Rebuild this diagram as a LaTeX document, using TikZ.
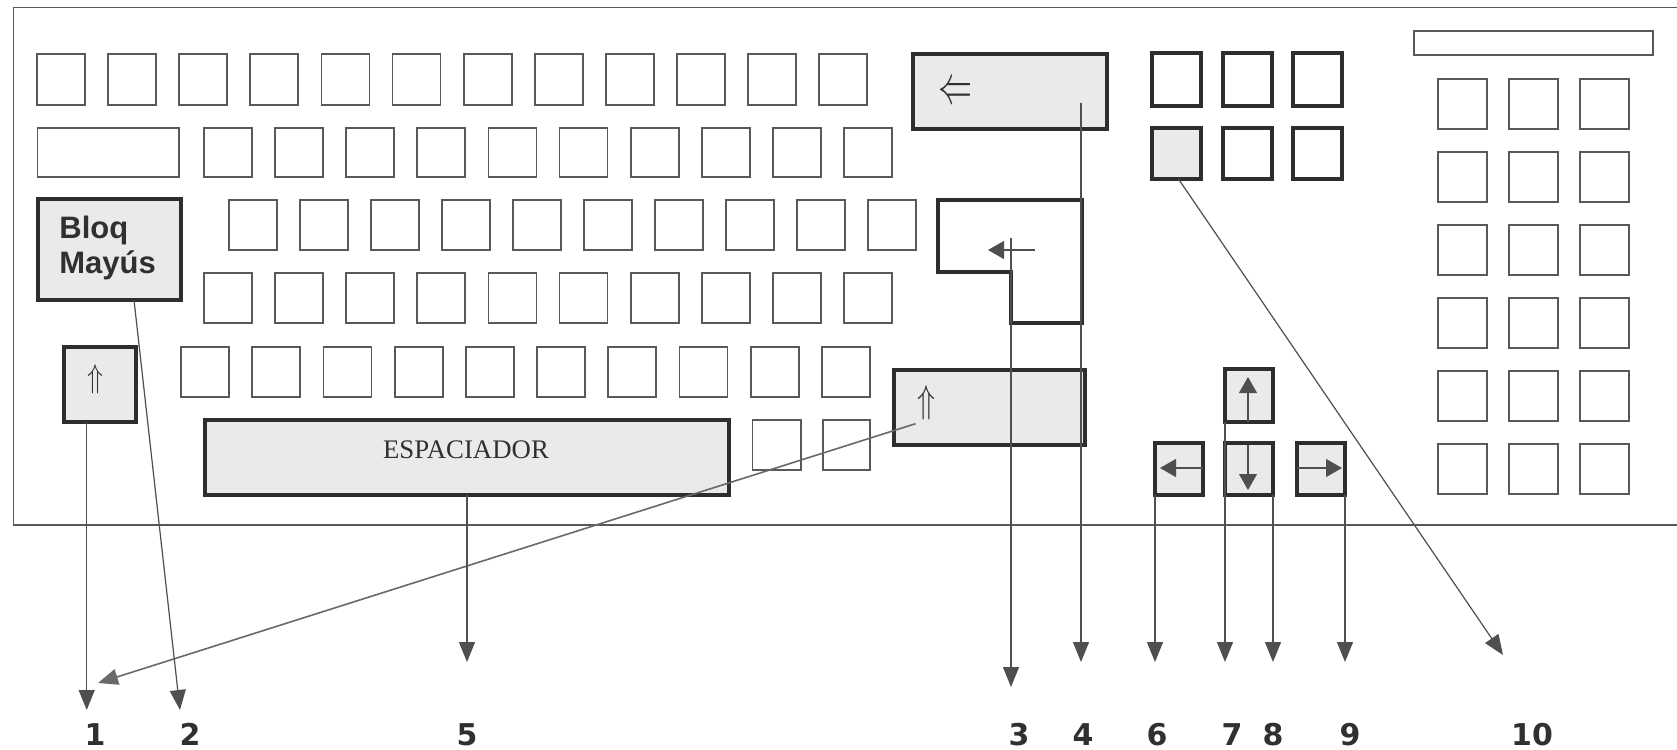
\documentclass[tikz,border=0pt]{standalone}
\usepackage{graphicx}
\usepackage{fontspec}
\setmainfont{Liberation Serif}
\newfontfamily\lsans{Liberation Sans}
\newfontfamily\dvsans{DejaVu Sans}
\usetikzlibrary{arrows.meta,calc}
\definecolor{thinline}{HTML}{595959}
\definecolor{thickline}{HTML}{2E2E2E}
\definecolor{keyfill}{HTML}{EAEAEA}
\definecolor{connc}{HTML}{4F4F4F}
\definecolor{txt}{HTML}{303030}
\newcommand\kbkey[6]{\node[#6, minimum width={((#4)-(#2))*0.5pt}, minimum height={((#5)-(#3))*0.5pt}] (#1) at ({((#2)+(#4))/2},{((#3)+(#5))/2}) {};}
\tikzset{
  keybase/.style={rectangle, inner sep=0pt, outer sep=0pt},
  thinkey/.style={keybase, draw=thinline, line width=0.9pt, fill=white},
  thickkey/.style={keybase, draw=thickline, line width=2pt, fill=white},
  graykey/.style={thickkey, fill=keyfill},
  conn/.style={draw=connc, line width=0.6pt, -{Triangle[width=8pt,length=10pt]}},
  keyarrow/.style={draw=connc, line width=0.6pt, -{Triangle[width=9pt,length=8pt]}},
  numlabel/.style={font=\dvsans\bfseries\fontsize{15}{15}\selectfont, text=txt, anchor=base, inner sep=0pt},
  symb/.style={text=txt, inner sep=0pt},
}
\begin{document}
\begin{tikzpicture}[x=0.5pt,y=-0.5pt]
\useasboundingbox (0,0) rectangle (1677,750);
\fill[white] (0,0) rectangle (1677,750);
% outer frame (open at the right)
\draw[thinline, line width=0.8pt] (1677,7.5) -- (13.6,7.5) -- (13.6,525) -- (1677,525);

% row 1
\foreach \i in {0,...,11} {\pgfmathsetmacro\xa{37+71.1*\i}
  \kbkey{ra\i}{\xa}{54}{\xa+48}{105}{thinkey}}
% row 2
\kbkey{tab}{37.5}{128}{178.6}{177}{thinkey}
\foreach \i in {0,...,9} {\pgfmathsetmacro\xa{204+71.1*\i}
  \kbkey{rb\i}{\xa}{128}{\xa+48}{177}{thinkey}}
% row 3
\kbkey{bloq}{37.5}{199}{181}{300}{graykey}
\foreach \i in {0,...,9} {\pgfmathsetmacro\xa{229+71*\i}
  \kbkey{rc\i}{\xa}{200}{\xa+48}{250}{thinkey}}
% row 4
\foreach \i in {0,...,9} {\pgfmathsetmacro\xa{204+71.1*\i}
  \kbkey{rd\i}{\xa}{273}{\xa+48}{323}{thinkey}}
% row 5
\foreach \i in {0,...,9} {\pgfmathsetmacro\xa{181+71.2*\i}
  \kbkey{re\i}{\xa}{347}{\xa+48}{397}{thinkey}}
% special keys
\kbkey{lsh}{63.6}{347}{135.7}{422}{graykey}
\kbkey{rsh}{893.6}{370}{1084.6}{445}{graykey}
\kbkey{space}{205}{420}{729}{495}{graykey}
\kbkey{sma}{752.5}{420}{800.7}{470}{thinkey}
\kbkey{smb}{823}{420}{870}{470}{thinkey}
\kbkey{bksp}{913}{54}{1107}{129}{graykey}
% enter (L shape)
\draw[thickline, line width=2pt, fill=white, line join=miter]
  (938,200) -- (1082,200) -- (1082,323) -- (1011,323) -- (1011,272) -- (938,272) -- cycle;
% 6-key block
\foreach \c in {0,1,2} {\pgfmathsetmacro\xa{1152+70.5*\c}
  \kbkey{blk0\c}{\xa}{53}{\xa+49}{106}{thickkey}
  \kbkey{blk1\c}{\xa}{128}{\xa+49}{179}{thickkey}}
\kbkey{blk10}{1152}{128}{1201}{179}{graykey}
% arrow keys
\kbkey{kup}{1225}{369}{1273}{422}{graykey}
\kbkey{kleft}{1155}{443}{1203}{495}{graykey}
\kbkey{kdown}{1225}{443}{1273}{495}{graykey}
\kbkey{kright}{1297}{443}{1345}{495}{graykey}
% numeric pad
\kbkey{npbar}{1414}{31}{1653}{55}{thinkey}
\foreach \c in {0,1,2} {\foreach \r in {0,...,5} {
  \pgfmathsetmacro\xa{1438+71*\c}\pgfmathsetmacro\ya{79+73*\r}
  \kbkey{np\r\c}{\xa}{\ya}{\xa+49}{\ya+50}{thinkey}}}

% key texts and symbols
\node[font=\lsans\bfseries\fontsize{15.5}{17}\selectfont, text=txt, anchor=base west, inner sep=0pt] (bloqa) at (59,238) {Bloq};
\node[font=\lsans\bfseries\fontsize{15.5}{17}\selectfont, text=txt, anchor=base west, inner sep=0pt] (bloqb) at (59,273) {Mayús};
\node[font=\fontsize{13.4}{14}\selectfont, text=txt, anchor=base, inner sep=0pt] (spacetxt) at (466,458) {ESPACIADOR};
\node[symb] (bksym) at (955,93) {\resizebox{17pt}{10pt}{$\Leftarrow$}};
\node[symb] (lshsym) at (95,379) {\resizebox{8pt}{11.5pt}{$\Uparrow$}};
\node[symb] (rshsym) at (926,403) {\resizebox{9pt}{13.5pt}{$\Uparrow$}};

% arrows inside keys
\draw[keyarrow] (kup.south) ++(-1,0) -- (1248,377);
\draw[keyarrow] (kleft.east) ++(0,-1) -- (1160,468);
\draw[keyarrow] (kdown.north) ++(-1,2) -- (1248,490);
\draw[keyarrow] (kright.west) ++(0,-1) -- (1342,468);
\coordinate (entarrow) at (1035,250);
\draw[keyarrow] (entarrow) -- (988,250);

% arrow tips
\coordinate (t1) at (86.7,710);
\coordinate (t1b) at (98,683);
\coordinate (t2) at (180,710);
\coordinate (t3) at (1011,687);
\coordinate (t4) at (1081,662);
\coordinate (t5) at (467,662);
\coordinate (t6) at (1155,662);
\coordinate (t7) at (1225,662);
\coordinate (t8) at (1273,662);
\coordinate (t9) at (1345,662);
\coordinate (t10) at (1503,655);
\coordinate (ent) at (1011,238);

% connectors
\draw[conn] (lsh.south -| t1) -- (t1);
\draw[conn, line width=0.8pt, draw=connc!85] ($(rshsym.south west)+(-1,3)$) -- (t1b);
\draw[conn] ($(bloq.south)+(24.75,0)$) -- (t2);
\draw[conn] (ent) -- (t3);
\draw[conn] ($(bksp.east)+(-26,11)$) -- (t4);
\draw[conn] (space.south) -- (t5);
\draw[conn] (kleft.south west) -- (t6);
\draw[conn] (kup.south west) -- (t7);
\draw[conn] (kdown.south east) -- (t8);
\draw[conn] (kright.south east) -- (t9);
\draw[conn] ($(blk10.south)+(2,0)$) -- (t10);

% labels
\node[numlabel] (l1) at (95,745) {1};
\node[numlabel] (l2) at (190,745) {2};
\node[numlabel] (l5) at (467,745) {5};
\node[numlabel] (l3) at (1019,745) {3};
\node[numlabel] (l4) at (1083,745) {4};
\node[numlabel] (l6) at (1157,745) {6};
\node[numlabel] (l7) at (1232,745) {7};
\node[numlabel] (l8) at (1273,745) {8};
\node[numlabel] (l9) at (1350,745) {9};
\node[numlabel] (l10) at (1532,745) {10};
\end{tikzpicture}
\end{document}
